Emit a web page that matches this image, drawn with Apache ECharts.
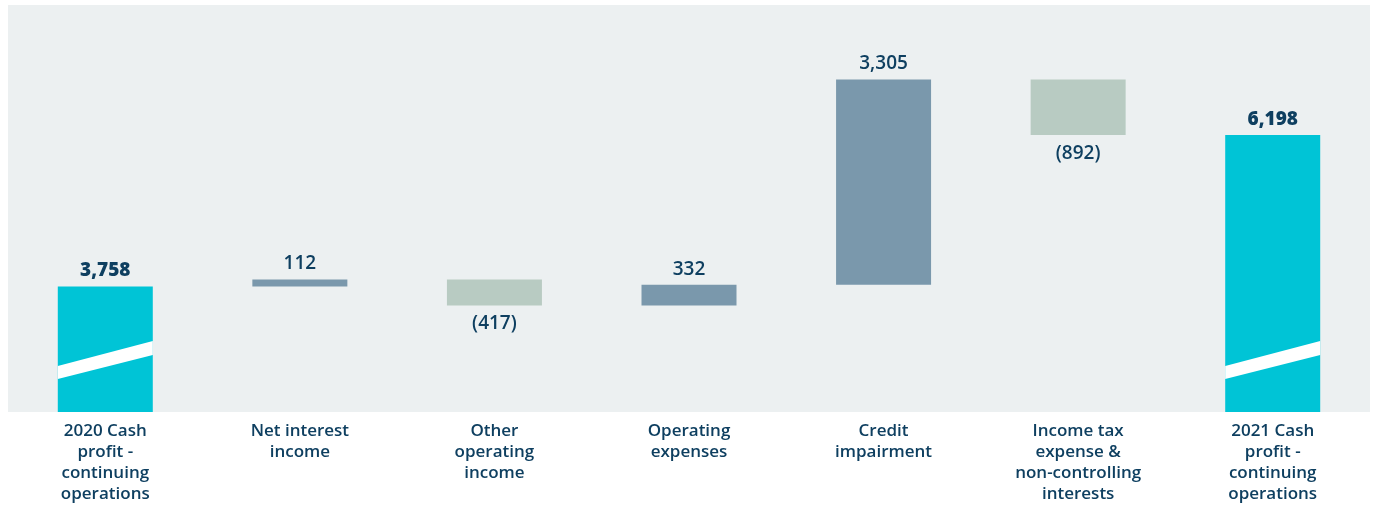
<!DOCTYPE html>
<html lang="en">
  <head>
    <meta charset="utf-8">
    <title>Cash profit waterfall</title>
    <script src="https://cdn.jsdelivr.net/npm/echarts@6/dist/echarts.min.js"></script>
    <style>
      html, body { margin: 0; padding: 0; background: #ffffff; }
    </style>
  </head>
  <body>
    <div id="chart" style="width: 1373px;height:505px;"></div>
    <script type="text/javascript">
    // categories and movements (in $m)
    var categories = [
        '2020 Cash\nprofit -\ncontinuing\noperations',
        'Net interest\nincome',
        'Other\noperating\nincome',
        'Operating\nexpenses',
        'Credit\nimpairment',
        'Income tax\nexpense &\nnon-controlling\ninterests',
        '2021 Cash\nprofit -\ncontinuing\noperations'
    ];
    var values = [3758, 112, -417, 332, 3305, -892, 6198];
    var isTotal = [true, false, false, false, false, false, true];
    var valueLabels = ['3,758', '112', '(417)', '332', '3,305', '(892)', '6,198'];

    var colTotal = '#00c4d6';
    var colUp = '#7a98ac';
    var colDown = '#b8cbc2';
    var textCol = '#0e3f60';
    var fontName = 'Open Sans';

    // build hidden base + visible bars
    var baseData = [];
    var barData = [];
    var running = 0;
    values.forEach(function(v, i) {
        if (isTotal[i]) {
            baseData.push(0);
            barData.push({
                value: v,
                itemStyle: {color: colTotal},
                label: {position: 'top', fontWeight: 800, formatter: valueLabels[i]}
            });
            running = v;
        } else if (v >= 0) {
            baseData.push(running);
            barData.push({
                value: v,
                itemStyle: {color: colUp},
                label: {position: 'top', formatter: valueLabels[i]}
            });
            running += v;
        } else {
            running += v;
            baseData.push(running);
            barData.push({
                value: -v,
                itemStyle: {color: colDown},
                label: {position: 'bottom', distance: 9, formatter: valueLabels[i]}
            });
        }
    });

    var yMin = 1737;
    var yMax = 8290;
    var barW = 95;

    // white diagonal "axis break" stripes on the total bars
    var stripeData = [];
    values.forEach(function(v, i) {
        if (isTotal[i]) stripeData.push([i, v]);
    });

    var chart = echarts.init(document.getElementById('chart'));
    var option = {
        animation: false,
        grid: {
            left: 8,
            right: 3,
            top: 5,
            bottom: 93,
            show: true,
            backgroundColor: '#ecf0f1',
            borderWidth: 0
        },
        xAxis: {
            type: 'category',
            data: categories,
            axisLine: {show: false},
            axisTick: {show: false},
            axisLabel: {
                interval: 0,
                margin: 9,
                color: textCol,
                fontFamily: fontName,
                fontSize: 17,
                fontWeight: 600,
                lineHeight: 21
            }
        },
        yAxis: {
            type: 'value',
            min: yMin,
            max: yMax,
            show: false,
            splitLine: {show: false}
        },
        series: [
            {
                name: 'base',
                type: 'bar',
                stack: 'wf',
                barWidth: barW,
                silent: true,
                itemStyle: {color: 'transparent'},
                data: baseData
            },
            {
                name: 'change',
                type: 'bar',
                stack: 'wf',
                barWidth: barW,
                label: {
                    show: true,
                    distance: 6,
                    color: textCol,
                    fontFamily: fontName,
                    fontSize: 19,
                    fontWeight: 600
                },
                data: barData
            },
            {
                name: 'break',
                type: 'custom',
                silent: true,
                z: 5,
                encode: {x: 0, y: 1},
                renderItem: function(params, api) {
                    var base = api.coord([api.value(0), yMin]);
                    var x0 = base[0] - barW / 2;
                    var x1 = base[0] + barW / 2;
                    var y = base[1];
                    return {
                        type: 'polygon',
                        shape: {
                            points: [
                                [x0, y - 46], [x1, y - 71],
                                [x1, y - 57], [x0, y - 33]
                            ]
                        },
                        style: {fill: '#ffffff'}
                    };
                },
                data: stripeData
            }
        ]
    };
    chart.setOption(option);
    </script>
  </body>
</html>
